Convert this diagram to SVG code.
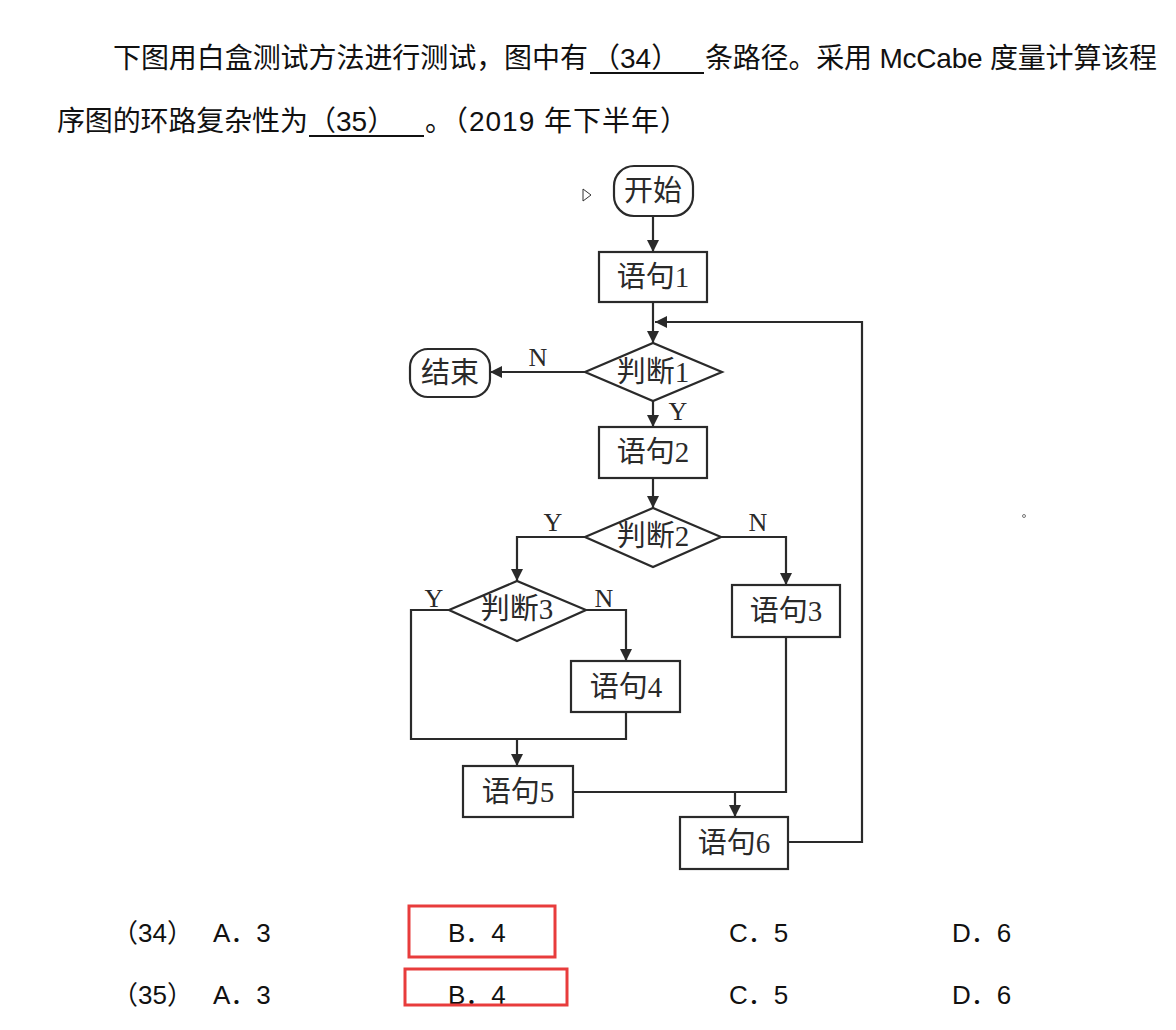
<svg xmlns="http://www.w3.org/2000/svg" width="1176" height="1030" viewBox="0 0 1176 1030">
<defs>
<marker id="ah" markerUnits="userSpaceOnUse" markerWidth="12" markerHeight="12" viewBox="0 0 12 12" refX="12" refY="6" orient="auto">
<path d="M0,0 L12,6 L0,12 z" fill="#2a2a2a"/>
</marker>
<style>
.q{font-family:"Liberation Sans","Noto Sans CJK SC",sans-serif;font-size:28px;fill:#111}
.opt{font-family:"Liberation Sans","Noto Sans CJK SC",sans-serif;font-size:26px;fill:#111}
.n{fill:#fff;stroke:#2a2a2a;stroke-width:2.2}
.t{font-family:"Liberation Serif","Noto Sans CJK SC",serif;font-size:29px;fill:#2a2a2a;text-anchor:middle;dominant-baseline:central}
.lb{font-family:"Liberation Serif",serif;font-size:26px;fill:#2a2a2a;text-anchor:middle}
.c{fill:none;stroke:#2a2a2a;stroke-width:2.2}
.ca{fill:none;stroke:#2a2a2a;stroke-width:2.2;marker-end:url(#ah)}
.red{fill:none;stroke:#e83c3c;stroke-width:3}
.ul{stroke:#111;stroke-width:2}
</style>
</defs>
<rect width="1176" height="1030" fill="#fff"/>

<g id="question">
<text class="q" x="113" y="68" textLength="475" lengthAdjust="spacing">下图用白盒测试方法进行测试，图中有</text>
<text class="q" x="592" y="68">（34）</text>
<line class="ul" x1="590" y1="73" x2="704" y2="73"/>
<text class="q" x="705" y="68" textLength="452" lengthAdjust="spacing">条路径。采用 McCabe 度量计算该程</text>
<text class="q" x="57" y="131" textLength="251" lengthAdjust="spacing">序图的环路复杂性为</text>
<text class="q" x="308" y="131">（35）</text>
<line class="ul" x1="309" y1="136" x2="424" y2="136"/>
<text class="q" x="425" y="131" textLength="263" lengthAdjust="spacing">。（2019 年下半年）</text>
</g>

<g id="connectors">
<line class="ca" x1="653" y1="216" x2="653" y2="252"/>
<line class="ca" x1="653" y1="302" x2="653" y2="343"/>
<line class="ca" x1="585" y1="372" x2="490" y2="372"/>
<line class="ca" x1="653" y1="401" x2="653" y2="427"/>
<line class="ca" x1="653" y1="478" x2="653" y2="508"/>
<polyline class="ca" points="585,537 517,537 517,581"/>
<polyline class="ca" points="721,537 786,537 786,585"/>
<polyline class="ca" points="586,610 626,610 626,661"/>
<polyline class="c" points="449,610 411,610 411,739 626,739 626,712"/>
<line class="ca" x1="517" y1="739" x2="517" y2="766"/>
<polyline class="c" points="573,792 786,792 786,637"/>
<line class="ca" x1="735" y1="792" x2="735" y2="817"/>
<polyline class="ca" points="788,842 862,842 862,322 655,322"/>
<text class="lb" x="538" y="366">N</text>
<text class="lb" x="678" y="420">Y</text>
<text class="lb" x="553" y="531">Y</text>
<text class="lb" x="758" y="531">N</text>
<text class="lb" x="434" y="607">Y</text>
<text class="lb" x="604" y="607">N</text>
</g>

<g id="start"><rect class="n" x="614" y="166" width="79" height="50" rx="20"/><text class="t" x="653" y="191">开始</text></g>
<g id="s1"><rect class="n" x="599" y="252" width="108" height="50"/><text class="t" x="653" y="277">语句1</text></g>
<g id="d1"><polygon class="n" points="585,372 653,343 722,372 653,401"/><text class="t" x="653" y="372">判断1</text></g>
<g id="end"><rect class="n" x="410" y="349" width="80" height="48" rx="18"/><text class="t" x="450" y="373">结束</text></g>
<g id="s2"><rect class="n" x="599" y="427" width="108" height="51"/><text class="t" x="653" y="452">语句2</text></g>
<g id="d2"><polygon class="n" points="585,537 653,508 721,537 653,567"/><text class="t" x="653" y="536">判断2</text></g>
<g id="d3"><polygon class="n" points="449,610 517,581 586,610 517,641"/><text class="t" x="517" y="609">判断3</text></g>
<g id="s3"><rect class="n" x="732" y="585" width="108" height="52"/><text class="t" x="786" y="611">语句3</text></g>
<g id="s4"><rect class="n" x="571" y="661" width="109" height="51"/><text class="t" x="626" y="687">语句4</text></g>
<g id="s5"><rect class="n" x="463" y="766" width="110" height="51"/><text class="t" x="518" y="792">语句5</text></g>
<g id="s6"><rect class="n" x="680" y="817" width="108" height="52"/><text class="t" x="734" y="843">语句6</text></g>

<path d="M583,189 L591,195 L583,201 z" fill="#fff" stroke="#333" stroke-width="1"/>
<circle cx="1024" cy="516" r="1.5" fill="none" stroke="#555" stroke-width="0.8"/>

<g id="options">
<text class="opt" x="112" y="942">（34）</text>
<text class="opt" x="213" y="942">A．3</text>
<text class="opt" x="448" y="942">B．4</text>
<text class="opt" x="729" y="942">C．5</text>
<text class="opt" x="952" y="942">D．6</text>
<text class="opt" x="112" y="1004">（35）</text>
<text class="opt" x="213" y="1004">A．3</text>
<text class="opt" x="448" y="1004">B．4</text>
<text class="opt" x="729" y="1004">C．5</text>
<text class="opt" x="952" y="1004">D．6</text>
<rect class="red" x="409" y="906" width="146" height="51"/>
<rect class="red" x="405" y="969" width="162" height="36"/>
</g>
</svg>
